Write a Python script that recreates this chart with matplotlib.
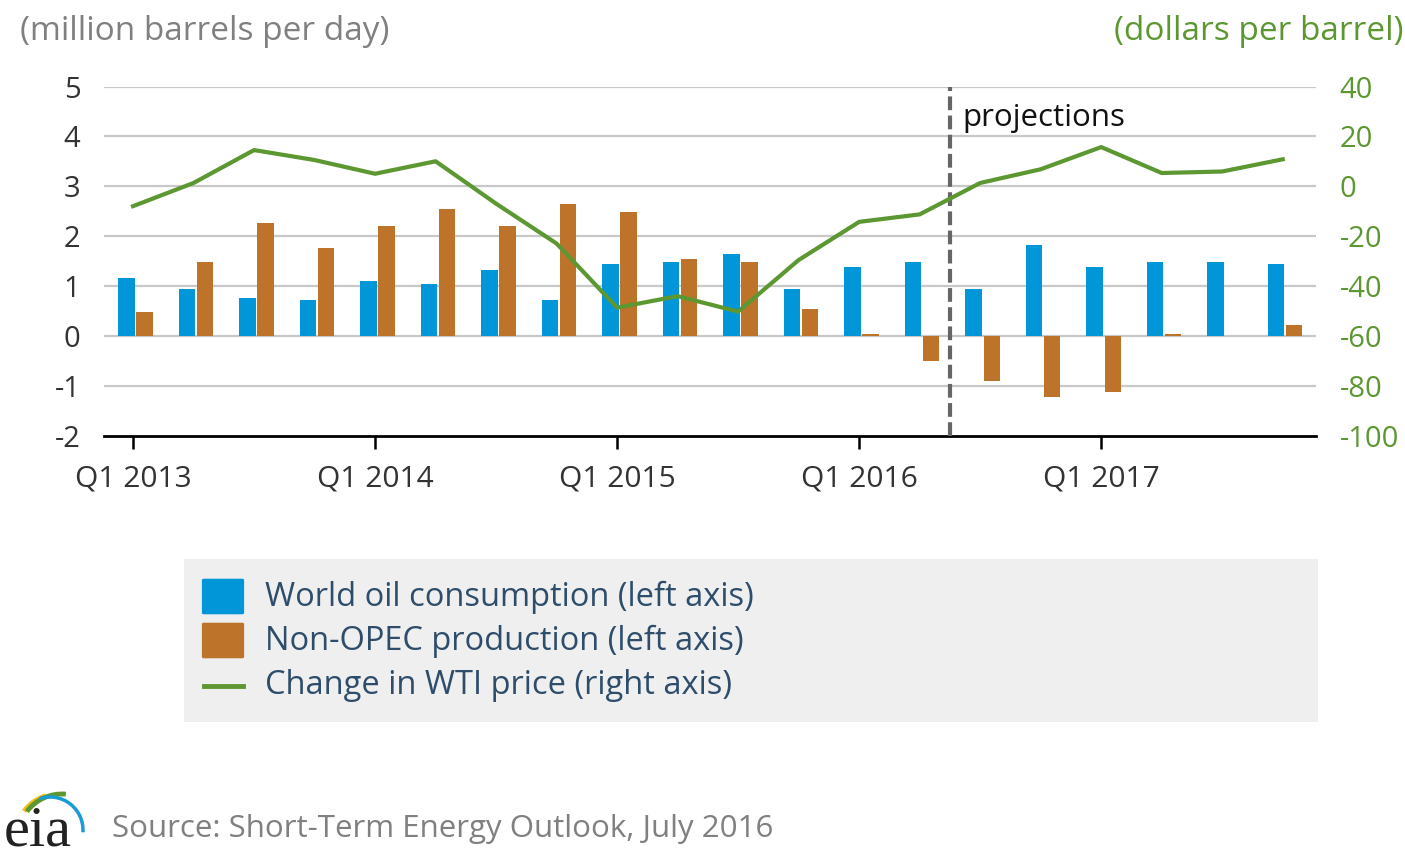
import numpy as np
import matplotlib
matplotlib.use("Agg")
import matplotlib.pyplot as plt
from matplotlib.patches import FancyBboxPatch, Rectangle, Arc
from matplotlib.lines import Line2D

plt.rcParams['font.family'] = ['Open Sans', 'DejaVu Sans']

# Data (quarterly year-over-year changes)
quarters = ['Q1 2013', 'Q2 2013', 'Q3 2013', 'Q4 2013',
            'Q1 2014', 'Q2 2014', 'Q3 2014', 'Q4 2014',
            'Q1 2015', 'Q2 2015', 'Q3 2015', 'Q4 2015',
            'Q1 2016', 'Q2 2016', 'Q3 2016', 'Q4 2016',
            'Q1 2017', 'Q2 2017', 'Q3 2017', 'Q4 2017']
consumption = [1.15, 0.93, 0.76, 0.71, 1.09, 1.04, 1.32, 0.71,
               1.43, 1.48, 1.65, 0.93, 1.37, 1.48, 0.93, 1.82,
               1.37, 1.48, 1.48, 1.43]
non_opec = [0.48, 1.48, 2.26, 1.76, 2.21, 2.54, 2.21, 2.65,
            2.49, 1.54, 1.48, 0.54, 0.04, -0.51, -0.90, -1.23,
            -1.13, 0.03, 0.0, 0.21]
wti_change = [-8, 1.3, 14.5, 10.5, 5, 10, -7, -23,
              -48.7, -44.1, -50.3, -29.6, -14.3, -11.3, 1.3, 6.8,
              15.7, 5.3, 5.9, 10.8]
left_ticks = [-2, -1, 0, 1, 2, 3, 4, 5]
right_ticks = [-100, -80, -60, -40, -20, 0, 20, 40]
projection_start = 13.5

BLUE = '#0096d7'
ORANGE = '#bd732a'
GREEN = '#5d9732'
GRID = '#c8c8c8'
TEXT = '#333333'
GRAYTXT = '#808080'
LEGTXT = '#2d4d6b'

W, H = 1405, 860
fig = plt.figure(figsize=(W / 100, H / 100), dpi=100)


def fx(x):
    return x / W


def fy(y):
    return 1 - y / H


ax = fig.add_axes([fx(104), fy(435.5), fx(1316) - fx(104), fy(86.5) - fy(435.5)])
x = np.arange(len(quarters))

ax.bar(x - 0.11, consumption, width=0.27, color=BLUE, zorder=3)
ax.bar(x + 0.19, non_opec, width=0.27, color=ORANGE, zorder=3)

ax.set_xlim(-0.48, 19.55)
ax.set_ylim(-2, 5)
ax.set_yticks(left_ticks)
ax.set_yticklabels([str(t) for t in left_ticks])
for t in left_ticks[1:]:
    ax.axhline(t, color=GRID, lw=1.6, zorder=1)

q1 = [i for i, q in enumerate(quarters) if q.startswith('Q1')]
ax.set_xticks(q1)
ax.set_xticklabels([quarters[i] for i in q1])
ax.tick_params(axis='x', direction='out', length=9, width=1.8, color='black',
               labelsize=21.5, labelcolor=TEXT, pad=12)
ax.tick_params(axis='y', length=0, labelsize=21, labelcolor=TEXT, pad=17)
for s in ['top', 'right', 'left']:
    ax.spines[s].set_visible(False)
ax.spines['bottom'].set_linewidth(2)
ax.spines['bottom'].set_zorder(5)

ax.axvline(projection_start, color='#666666', lw=3, ls=(0, (3.3, 1.3)), zorder=6)
ax.text(projection_start + 0.2, 4.36, 'projections', fontsize=22.5, color='#111111',
        va='center', ha='left', zorder=7)

ax2 = ax.twinx()
ax2.plot(x, wti_change, color=GREEN, lw=3, zorder=4)
ax2.set_ylim(-100, 40)
ax2.set_yticks(right_ticks)
ax2.set_yticklabels([str(t) for t in right_ticks])
ax2.tick_params(axis='y', length=0, labelsize=21, labelcolor=GREEN, pad=17)
for s in ax2.spines.values():
    s.set_visible(False)

fig.text(fx(20), fy(32), '(million barrels per day)', fontsize=24, color=GRAYTXT,
         ha='left', va='center')
fig.text(fx(1403), fy(32), '(dollars per barrel)', fontsize=24, color=GREEN,
         ha='right', va='center')

# Legend panel
fig.add_artist(Rectangle((fx(184), fy(722)), fx(1318) - fx(184), fy(559) - fy(722),
                         transform=fig.transFigure, facecolor='#efefef', edgecolor='none'))
labels = ['World oil consumption (left axis)', 'Non-OPEC production (left axis)',
          'Change in WTI price (right axis)']
rows = [597, 641, 686]
for yy, col in zip(rows[:2], [BLUE, ORANGE]):
    fig.add_artist(FancyBboxPatch((fx(204), fy(yy + 16)), fx(38), fy(yy - 17) - fy(yy + 16),
                                  boxstyle='round,pad=0.0015', transform=fig.transFigure,
                                  facecolor=col, edgecolor='none'))
fig.add_artist(Line2D([fx(204), fx(243)], [fy(rows[2]), fy(rows[2])], color=GREEN, lw=3.5,
                      transform=fig.transFigure))
for lab, yy in zip(labels, rows):
    fig.text(fx(265), fy(yy), lab, fontsize=23.5, color=LEGTXT, ha='left', va='center')

# Footer: source and logo
fig.text(fx(112), fy(829), 'Source: Short-Term Energy Outlook, July 2016', fontsize=22.5,
         color=GRAYTXT, ha='left', va='center')
fig.text(fx(4), fy(831), 'eia', fontsize=42, color='#222222', ha='left', va='center',
         family=['Liberation Serif', 'DejaVu Serif'])
lax = fig.add_axes([fx(0), fy(850), fx(100) - fx(0), fy(785) - fy(850)])
lax.set_xlim(0, 100)
lax.set_ylim(0, 65)
lax.axis('off')
lax.add_patch(Arc((58, 14), 84, 84, theta1=107, theta2=144, color='#f2c019', lw=3.5))
lax.add_patch(Arc((62, 12), 88, 88, theta1=85, theta2=143, color='#5d9732', lw=3.5))
lax.add_patch(Arc((50, 20), 66, 66, theta1=-4, theta2=108, color='#1a9ad6', lw=2.5))

fig.savefig('out.png', dpi=100, facecolor='white')
